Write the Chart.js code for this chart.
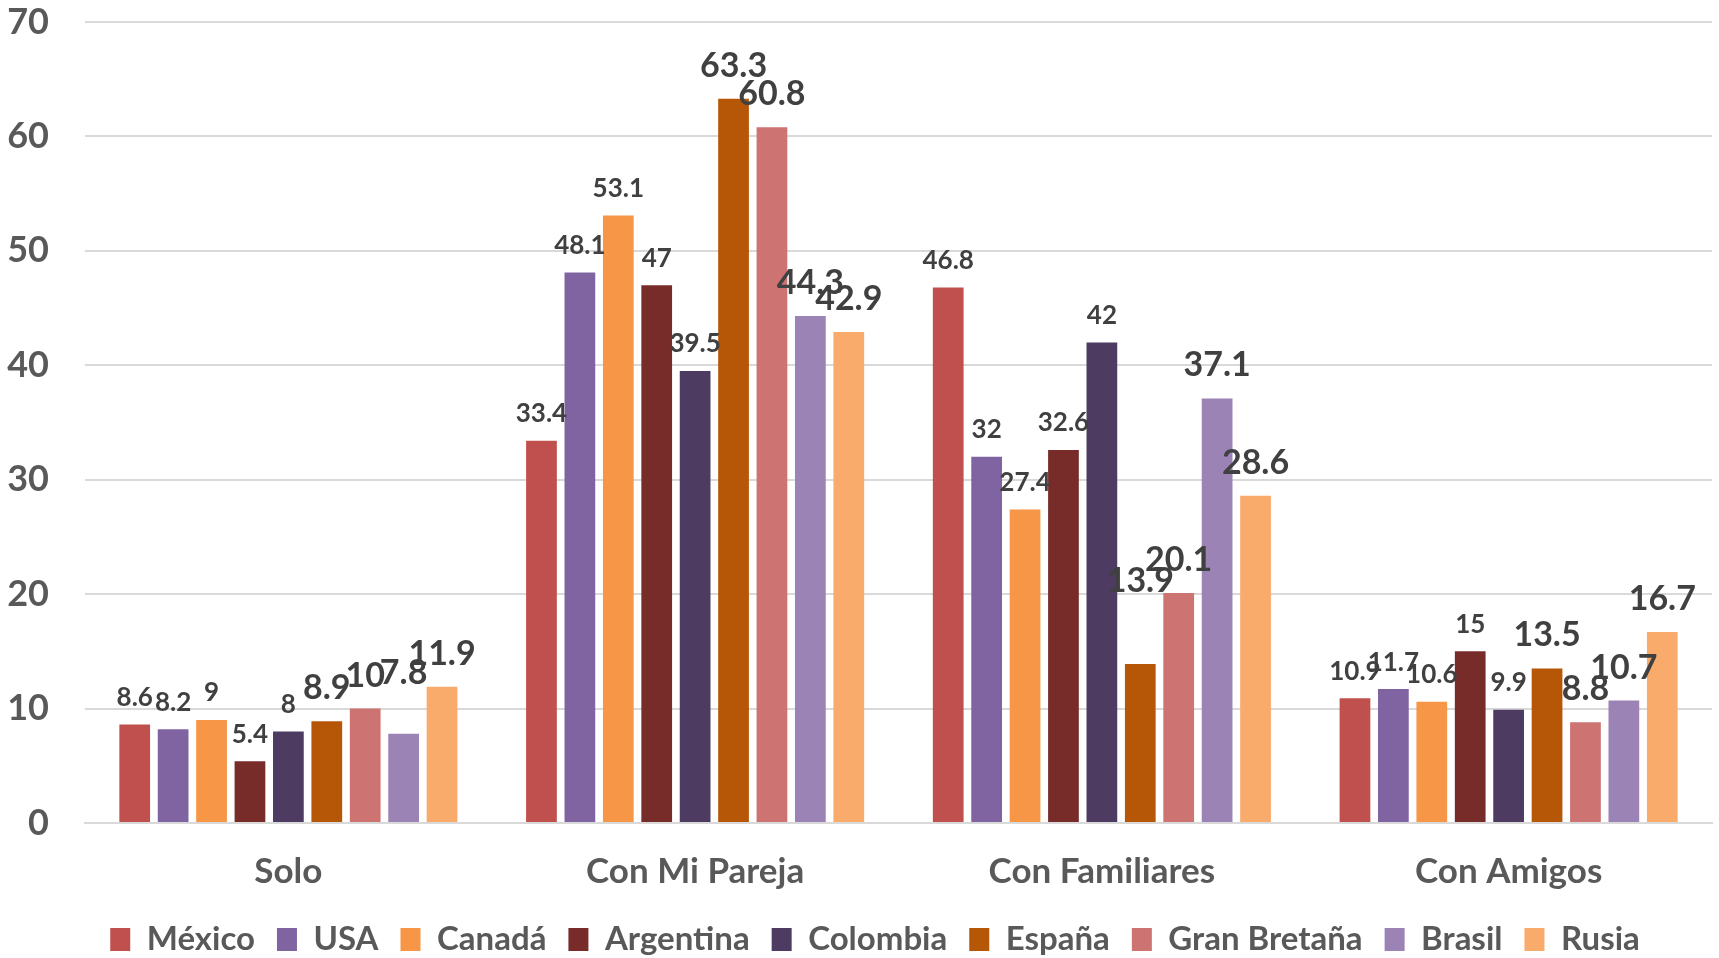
<!DOCTYPE html>
<html>
<head>
<meta charset="utf-8">
<script src="https://cdn.jsdelivr.net/npm/chart.js@4/dist/chart.umd.min.js"></script>
<style>
  html, body { margin: 0; padding: 0; background: #ffffff; }
  #wrap { width: 1719px; height: 958px; }
</style>
</head>
<body>
<div id="wrap"><canvas id="myChart" width="1719" height="958"></canvas></div>
<script>
const ctx = document.getElementById('myChart').getContext('2d');

// categories and series
const categories = ['Solo', 'Con Mi Pareja', 'Con Familiares', 'Con Amigos'];
const countries = ['México', 'USA', 'Canadá', 'Argentina', 'Colombia', 'España', 'Gran Bretaña', 'Brasil', 'Rusia'];
const mexico = [8.6, 33.4, 46.8, 10.9];
const usa = [8.2, 48.1, 32, 11.7];
const canada = [9, 53.1, 27.4, 10.6];
const argentina = [5.4, 47, 32.6, 15];
const colombia = [8, 39.5, 42, 9.9];
const espana = [8.9, 63.3, 13.9, 13.5];
const granBretana = [10, 60.8, 20.1, 8.8];
const brasil = [7.8, 44.3, 37.1, 10.7];
const rusia = [11.9, 42.9, 28.6, 16.7];
const yTicks = [0, 10, 20, 30, 40, 50, 60, 70];

const seriesValues = [mexico, usa, canada, argentina, colombia, espana, granBretana, brasil, rusia];
const colors = ['#C0504D', '#8064A2', '#F79646', '#772C2A', '#4D3B62', '#B65708', '#CD7371', '#9B83B5', '#F9AB6B'];

const FONT = 'Lato, "Open Sans", sans-serif';

// draws the value above each bar; first five series use a smaller font
const barLabels = {
    id: 'barLabels',
    afterDatasetsDraw(chart, args, opts) {
        const c = chart.ctx;
        c.save();
        c.fillStyle = '#404040';
        c.textAlign = 'center';
        c.textBaseline = 'middle';
        chart.data.datasets.forEach((ds, i) => {
            const meta = chart.getDatasetMeta(i);
            const big = i >= 5;
            c.font = 'bold ' + (big ? 34 : 26) + 'px ' + FONT;
            meta.data.forEach((bar, j) => {
                let lift = big ? 33 : 27;
                const extra = opts.extraLift[i + '-' + j];
                if (extra) lift += extra;
                c.fillText(String(ds.data[j]), bar.x, bar.y - lift);
            });
        });
        c.restore();
    }
};

// nudge the legend row a little to the right, like the original
const legendShift = {
    id: 'legendShift',
    afterLayout(chart) {
        if (chart.legend) chart.legend.left = 38;
    }
};

new Chart(ctx, {
    type: 'bar',
    data: {
        labels: categories,
        datasets: countries.map((name, i) => ({
            label: name,
            data: seriesValues[i],
            backgroundColor: colors[i],
            borderWidth: 0,
            categoryPercentage: 0.85,
            barPercentage: 0.8
        }))
    },
    options: {
        responsive: false,
        animation: false,
        layout: {
            padding: { top: 0, right: 7, left: 6, bottom: -8 }
        },
        scales: {
            x: {
                afterFit(scale) {
                    scale.height = 78;
                    scale.paddingLeft = 0;
                    scale.paddingRight = 0;
                },
                grid: { display: false, drawTicks: false },
                border: { color: '#d9d9d9', width: 2 },
                ticks: {
                    color: '#595959',
                    padding: 28,
                    font: { family: FONT, size: 35, weight: 'bold' }
                }
            },
            y: {
                min: 0,
                max: 70,
                afterBuildTicks(axis) {
                    axis.ticks = yTicks.map(v => ({ value: v }));
                },
                afterFit(scale) {
                    scale.paddingTop = 22;
                    scale.width = 79;
                },
                grid: { color: '#d9d9d9', lineWidth: 2, drawTicks: false },
                border: { display: false },
                ticks: {
                    color: '#595959',
                    padding: 36,
                    font: { family: FONT, size: 36, weight: 'bold' }
                }
            }
        },
        plugins: {
            legend: {
                position: 'bottom',
                labels: {
                    color: '#595959',
                    boxWidth: 20,
                    boxHeight: 23,
                    padding: 22,
                    font: { family: FONT, size: 33, weight: 'bold' }
                }
            },
            tooltip: { enabled: false },
            barLabels: {
                extraLift: { '5-2': 50, '7-0': 28 }
            }
        }
    },
    plugins: [barLabels, legendShift]
});
</script>
</body>
</html>
